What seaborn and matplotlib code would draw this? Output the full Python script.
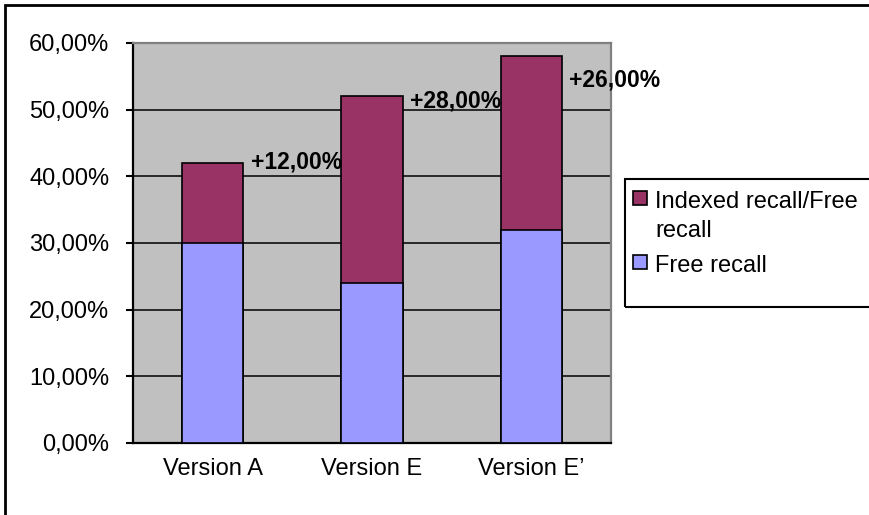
import matplotlib
matplotlib.use("Agg")
import matplotlib.pyplot as plt
import matplotlib.patches as mpatches
from matplotlib.ticker import FixedLocator, FuncFormatter
import numpy as np
import pandas as pd
import seaborn as sns

# data
versions = ["Version A", "Version E", "Version E\u2019"]
free_recall = [30.0, 24.0, 32.0]
indexed_gain = [12.0, 28.0, 26.0]
gain_labels = ["+12,00%", "+28,00%", "+26,00%"]
label_y = [42.1, 51.3, 54.4]  # where the gain labels sit (in %)

colors = {"free": "#9999FF", "indexed": "#993366"}

sns.set_style("white")
plt.rcParams["font.family"] = ["Liberation Sans", "DejaVu Sans"]
plt.rcParams["font.size"] = 17
plt.rcParams["text.color"] = "black"
plt.rcParams["xtick.color"] = "black"
plt.rcParams["ytick.color"] = "black"

df = pd.DataFrame({
    "version": versions,
    "free": free_recall,
    "total": np.array(free_recall) + np.array(indexed_gain),
})

W, H = 869, 515
fig = plt.figure(figsize=(W / 100, H / 100), dpi=100)
ax = fig.add_axes([133 / W, 1 - 443 / H, (611 - 133) / W, (443 - 43) / H])
ax.set_facecolor("#C0C0C0")

bw = 0.385
sns.barplot(data=df, x="version", y="total", color=colors["indexed"], width=bw,
            edgecolor="black", linewidth=1.2, saturation=1, ax=ax, zorder=3)
sns.barplot(data=df, x="version", y="free", color=colors["free"], width=bw,
            edgecolor="black", linewidth=1.2, saturation=1, ax=ax, zorder=4)

# gain labels next to each bar
for i, (txt, y) in enumerate(zip(gain_labels, label_y)):
    ax.text(i + bw / 2 + 0.045, y, txt, ha="left", va="center",
            fontweight="bold", fontsize=16.5, zorder=6)

ax.set_xlim(-0.5, 2.5)
ax.set_ylim(0, 60)
ax.set_xlabel("")
ax.set_ylabel("")
ax.yaxis.set_major_locator(FixedLocator(np.arange(0, 61, 10)))
ax.yaxis.set_major_formatter(FuncFormatter(lambda v, p: f"{v:.2f}%".replace(".", ",")))
ax.grid(axis="y", color="black", linewidth=1.1, zorder=1)
ax.set_axisbelow(True)

ax.xaxis.set_minor_locator(FixedLocator([-0.5, 0.5, 1.5, 2.5]))
ax.tick_params(axis="x", which="major", length=0, pad=11)
ax.tick_params(axis="x", which="minor", length=7, width=1.5, direction="out")
ax.tick_params(axis="y", which="major", length=5, width=1.5, direction="out",
               pad=12, left=True)

for side in ["left", "bottom"]:
    ax.spines[side].set_color("black")
    ax.spines[side].set_linewidth(1.6)
for side in ["top", "right"]:
    ax.spines[side].set_visible(True)
    ax.spines[side].set_color("#808080")
    ax.spines[side].set_linewidth(1.6)

# legend, laid out by hand like the Excel one
tf = fig.transFigure
fig.patches.append(mpatches.Rectangle((625 / W, 1 - 307 / H), 0.4, (307 - 179) / H,
                                      transform=tf, fill=False,
                                      edgecolor="black", linewidth=1.5))
legend_rows = [
    (colors["indexed"], ["Indexed recall/Free", "recall"], 198, [202, 231]),
    (colors["free"], ["Free recall"], 262, [266]),
]
for col, lines, sq_y, text_ys in legend_rows:
    fig.patches.append(mpatches.Rectangle((633 / W, 1 - (sq_y + 7) / H), 14 / W, 14 / H,
                                          transform=tf, facecolor=col,
                                          edgecolor="black", linewidth=1.2))
    for line, ty in zip(lines, text_ys):
        fig.text(655 / W, 1 - ty / H, line, ha="left", va="center", fontsize=17)

# outer chart border
fig.patches.append(mpatches.Rectangle((5 / W, -0.1), 1.2, 1.1 - 5 / H,
                                      transform=tf, fill=False,
                                      edgecolor="black", linewidth=2))

fig.savefig("out.png", dpi=100, facecolor="white")
